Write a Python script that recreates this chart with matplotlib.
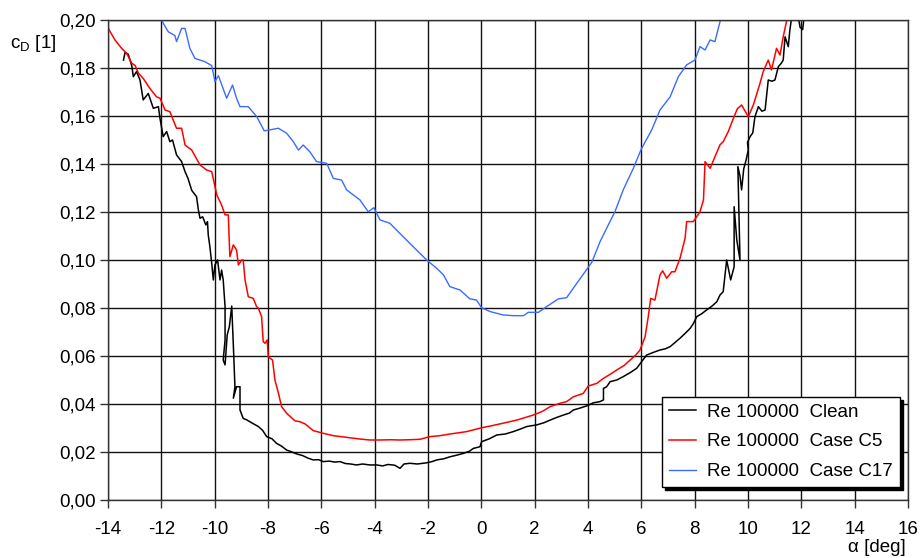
import matplotlib.pyplot as plt

plt.rcParams['font.family'] = ['Liberation Sans', 'DejaVu Sans']
plt.rcParams['axes.unicode_minus'] = False

# drag coefficient vs angle of attack, Re 100000
clean_alpha = [-13.42, -13.36, -13.24, -13.11, -13.05, -12.93, -12.80, -12.68, -12.49, -12.30,
               -12.11, -12.05, -11.93, -11.80, -11.68, -11.58, -11.43, -11.24, -11.11, -11.00,
               -10.86, -10.68, -10.61, -10.55, -10.45, -10.33, -10.27, -10.24, -10.18, -10.11,
               -10.05, -9.99, -9.89, -9.80, -9.74, -9.68, -9.61, -9.61, -9.68, -9.61,
               -9.53, -9.45, -9.36, -9.30, -9.24, -9.30, -9.18, -9.05, -9.05, -8.93,
               -8.80, -8.68, -8.50, -8.36, -8.20, -8.05, -7.85, -7.68, -7.50, -7.30,
               -7.10, -6.93, -6.70, -6.49, -6.30, -6.10, -5.93, -5.70, -5.50, -5.30,
               -5.10, -4.90, -4.68, -4.45, -4.18, -3.92, -3.70, -3.50, -3.25, -3.05,
               -2.90, -2.68, -2.40, -2.05, -1.85, -1.67, -1.40, -1.18, -0.95, -0.68,
               -0.45, -0.30, -0.05, 0.01, 0.30, 0.58, 0.90, 1.20, 1.45, 1.70,
               2.08, 2.35, 2.58, 2.85, 3.08, 3.30, 3.45, 3.70, 3.95, 4.20,
               4.45, 4.58, 4.58, 4.70, 4.83, 5.08, 5.32, 5.60, 5.83, 6.00,
               6.20, 6.45, 6.70, 6.90, 7.08, 7.25, 7.45, 7.65, 7.83, 7.95,
               8.08, 8.25, 8.45, 8.65, 8.83, 8.95, 9.07, 9.20, 9.35, 9.48,
               9.48, 9.58, 9.70, 9.62, 9.70, 9.76, 9.84, 9.93, 10.01, 9.98,
               10.08, 10.18, 10.26, 10.39, 10.52, 10.64, 10.76, 10.90, 11.01, 11.14,
               11.25, 11.32, 11.39, 11.51, 11.57, 11.70, 11.85, 11.95, 12.05, 12.12]
clean_cd = [0.1833, 0.1865, 0.1857, 0.1810, 0.1764, 0.1785, 0.1750, 0.1667, 0.1694, 0.1632,
            0.1639, 0.1590, 0.1514, 0.1535, 0.1493, 0.1500, 0.1438, 0.1410, 0.1368, 0.1340,
            0.1290, 0.1264, 0.1208, 0.1174, 0.1180, 0.1146, 0.1160, 0.1104, 0.1056, 0.0986,
            0.0917, 0.0979, 0.1000, 0.0917, 0.0958, 0.0917, 0.0806, 0.0667, 0.0583, 0.0563,
            0.0688, 0.0722, 0.0808, 0.0646, 0.0472, 0.0424, 0.0472, 0.0472, 0.0375, 0.0340,
            0.0334, 0.0326, 0.0315, 0.0306, 0.0290, 0.0264, 0.0255, 0.0236, 0.0225, 0.0208,
            0.0200, 0.0192, 0.0185, 0.0174, 0.0167, 0.0168, 0.0160, 0.0162, 0.0158, 0.0160,
            0.0152, 0.0150, 0.0146, 0.0150, 0.0146, 0.0146, 0.0142, 0.0148, 0.0145, 0.0132,
            0.0150, 0.0153, 0.0150, 0.0155, 0.0160, 0.0167, 0.0172, 0.0180, 0.0186, 0.0194,
            0.0203, 0.0215, 0.0222, 0.0243, 0.0255, 0.0271, 0.0275, 0.0285, 0.0295, 0.0306,
            0.0313, 0.0322, 0.0333, 0.0345, 0.0354, 0.0362, 0.0375, 0.0383, 0.0392, 0.0405,
            0.0410, 0.0417, 0.0465, 0.0472, 0.0493, 0.0500, 0.0514, 0.0532, 0.0549, 0.0575,
            0.0604, 0.0615, 0.0625, 0.0630, 0.0639, 0.0655, 0.0674, 0.0695, 0.0715, 0.0735,
            0.0764, 0.0775, 0.0792, 0.0808, 0.0826, 0.0854, 0.0868, 0.1000, 0.0917, 0.0972,
            0.1222, 0.1083, 0.1000, 0.1389, 0.1350, 0.1292, 0.1380, 0.1417, 0.1458, 0.1490,
            0.1514, 0.1530, 0.1597, 0.1639, 0.1620, 0.1625, 0.1750, 0.1745, 0.1750, 0.1806,
            0.1820, 0.1833, 0.1930, 0.1889, 0.1958, 0.2060, 0.2040, 0.1970, 0.1960, 0.2030]

c5_alpha = [-13.99, -13.74, -13.49, -13.30, -13.11, -12.98, -12.86, -12.68, -12.43, -12.18,
            -12.05, -11.86, -11.68, -11.43, -11.24, -11.11, -10.86, -10.55, -10.30, -10.11,
            -9.92, -9.74, -9.61, -9.49, -9.43, -9.30, -9.18, -9.11, -8.99, -8.93,
            -8.86, -8.74, -8.55, -8.43, -8.36, -8.24, -8.18, -8.11, -8.03, -7.99,
            -7.83, -7.74, -7.62, -7.49, -7.30, -6.99, -6.80, -6.61, -6.30, -5.93,
            -5.55, -5.05, -4.55, -4.18, -3.80, -3.40, -3.05, -2.70, -2.30, -1.93,
            -1.55, -1.18, -0.85, -0.55, 0.01, 0.33, 0.82, 1.33, 1.95, 2.30,
            2.58, 2.95, 3.20, 3.45, 3.82, 4.01, 4.33, 4.58, 4.85, 5.08,
            5.35, 5.58, 5.80, 5.95, 6.14, 6.26, 6.35, 6.51, 6.70, 6.80,
            6.95, 7.14, 7.26, 7.45, 7.64, 7.70, 7.95, 8.20, 8.33, 8.39,
            8.58, 8.76, 8.95, 9.07, 9.26, 9.45, 9.60, 9.76, 10.01, 10.20,
            10.45, 10.57, 10.76, 10.88, 11.07, 11.20, 11.32, 11.45, 11.55]
c5_cd = [0.1965, 0.1917, 0.1882, 0.1861, 0.1820, 0.1810, 0.1778, 0.1757, 0.1715, 0.1680,
         0.1674, 0.1625, 0.1618, 0.1549, 0.1549, 0.1479, 0.1458, 0.1396, 0.1375, 0.1368,
         0.1271, 0.1229, 0.1188, 0.1188, 0.1014, 0.1063, 0.1042, 0.0979, 0.1000, 0.1000,
         0.0917, 0.0847, 0.0840, 0.0806, 0.0799, 0.0764, 0.0660, 0.0653, 0.0667, 0.0597,
         0.0583, 0.0500, 0.0450, 0.0389, 0.0361, 0.0330, 0.0326, 0.0317, 0.0289, 0.0278,
         0.0268, 0.0261, 0.0254, 0.0250, 0.0250, 0.0251, 0.0250, 0.0251, 0.0253, 0.0264,
         0.0268, 0.0275, 0.0280, 0.0285, 0.0301, 0.0308, 0.0320, 0.0333, 0.0354, 0.0370,
         0.0389, 0.0403, 0.0410, 0.0430, 0.0444, 0.0475, 0.0486, 0.0507, 0.0525, 0.0542,
         0.0560, 0.0583, 0.0605, 0.0625, 0.0680, 0.0764, 0.0840, 0.0833, 0.0938, 0.0955,
         0.0924, 0.0951, 0.0951, 0.1007, 0.1090, 0.1160, 0.1160, 0.1201, 0.1250, 0.1410,
         0.1382, 0.1430, 0.1480, 0.1493, 0.1535, 0.1590, 0.1630, 0.1646, 0.1597, 0.1646,
         0.1736, 0.1785, 0.1833, 0.1792, 0.1882, 0.1854, 0.1930, 0.1997, 0.2050]

c17_alpha = [-12.00, -11.74, -11.49, -11.43, -11.24, -11.11, -10.93, -10.74, -10.36, -10.11,
             -9.99, -9.86, -9.55, -9.33, -9.18, -9.05, -8.74, -8.42, -8.14, -7.61,
             -7.30, -7.05, -6.86, -6.68, -6.43, -6.18, -5.80, -5.55, -5.24, -5.05,
             -4.55, -4.24, -4.03, -3.80, -3.43, -2.93, -2.55, -2.05, -1.67, -1.42,
             -1.18, -0.80, -0.43, -0.18, 0.01, 0.33, 0.82, 1.20, 1.58, 1.76,
             2.14, 2.45, 2.89, 3.20, 3.58, 3.89, 4.14, 4.45, 4.76, 5.01,
             5.32, 5.70, 6.01, 6.39, 6.70, 7.08, 7.39, 7.70, 8.01, 8.20,
             8.39, 8.58, 8.76, 8.95, 9.05]
c17_cd = [0.2000, 0.1951, 0.1935, 0.1910, 0.1965, 0.1965, 0.1882, 0.1840, 0.1826, 0.1810,
          0.1743, 0.1768, 0.1674, 0.1729, 0.1674, 0.1639, 0.1639, 0.1597, 0.1538, 0.1549,
          0.1528, 0.1493, 0.1458, 0.1479, 0.1451, 0.1410, 0.1403, 0.1340, 0.1333, 0.1292,
          0.1250, 0.1201, 0.1218, 0.1167, 0.1153, 0.1097, 0.1055, 0.1000, 0.0965, 0.0938,
          0.0889, 0.0875, 0.0838, 0.0833, 0.0801, 0.0785, 0.0771, 0.0768, 0.0768, 0.0782,
          0.0782, 0.0806, 0.0838, 0.0843, 0.0903, 0.0951, 0.0990, 0.1076, 0.1146, 0.1201,
          0.1292, 0.1382, 0.1465, 0.1542, 0.1625, 0.1680, 0.1764, 0.1813, 0.1833, 0.1889,
          0.1875, 0.1917, 0.1910, 0.1993, 0.2040]

x_ticks = list(range(-14, 17, 2))
y_ticks = [0.00, 0.02, 0.04, 0.06, 0.08, 0.10, 0.12, 0.14, 0.16, 0.18, 0.20]
y_labels = ['0,00', '0,02', '0,04', '0,06', '0,08', '0,10', '0,12', '0,14', '0,16', '0,18', '0,20']

fig = plt.figure(figsize=(9.22, 5.58), dpi=100)
ax = fig.add_axes([108/922, 1 - 500/558, 800/922, 480/558])

ax.plot(clean_alpha, clean_cd, color='black', lw=1.1, label='Re 100000  Clean')
ax.plot(c5_alpha, c5_cd, color='#ff0000', lw=1.1, label='Re 100000  Case C5')
ax.plot(c17_alpha, c17_cd, color='#3a6bff', lw=1.0, label='Re 100000  Case C17')

ax.set_xlim(-14, 16)
ax.set_ylim(0, 0.20)
ax.set_xticks(x_ticks)
ax.set_yticks(y_ticks)
ax.set_yticklabels(y_labels)
ax.grid(True, color='#111111', lw=1.0)
ax.set_axisbelow(True)
ax.tick_params(axis='both', direction='out', length=6, width=1, labelsize=13.5, color='#333333')
ax.tick_params(axis='x', pad=9)
ax.tick_params(axis='y', pad=3)
for s in ax.spines.values():
    s.set_color('#333333')
    s.set_linewidth(1.0)

fig.text(10/922, 1 - 48/558, r'c$_\mathregular{D}$ [1]', fontsize=13.5, ha='left', va='baseline')
fig.text(906/922, 1 - 548/558, 'α [deg]', fontsize=13.5, ha='right', va='center')

leg = ax.legend(loc='lower right', bbox_to_anchor=(0.99, 0.027), borderaxespad=0,
                fontsize=13.5, frameon=True, fancybox=False, framealpha=1,
                edgecolor='black', handlelength=1.45, handletextpad=0.6,
                labelspacing=0.67, borderpad=0.37,
                shadow={'ox': 2.2, 'oy': -2.2, 'color': 'black', 'alpha': 1})
leg.get_frame().set_linewidth(1.0)

fig.savefig('out.png', dpi=100)
